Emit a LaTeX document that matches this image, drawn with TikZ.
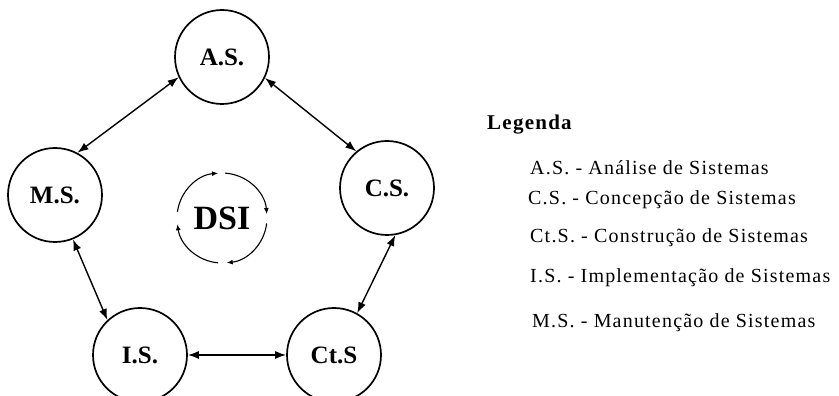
\documentclass[tikz,border=0pt]{standalone}
\usepackage{fontspec}
\setmainfont{Liberation Serif}
\newfontfamily\legfont[LetterSpace=6]{Liberation Serif}
\usetikzlibrary{arrows.meta}
\begin{document}
\begin{tikzpicture}[x=1pt,y=1pt,
  stage/.style={circle, draw, line width=1.7pt, minimum size=94pt, inner sep=0pt, font=\fontsize{25}{27}\selectfont\bfseries},
  link/.style={line width=1.4pt, {Latex[length=11pt,width=8pt]}-{Latex[length=11pt,width=8pt]}},
  ring/.style={line width=1.1pt, -{Latex[length=6pt,width=5pt]}},
  legitem/.style={anchor=base west, inner sep=0pt, font=\fontsize{20}{22}\legfont},
  leghead/.style={anchor=base west, inner sep=0pt, font=\fontsize{21}{23}\legfont\bfseries}
]
\useasboundingbox (0,0) rectangle (839,396);
\node[stage] (as) at (222,339) {A.S.};
\node[stage] (cs) at (387,208) {C.S.};
\node[stage] (ms) at (55,201) {M.S.};
\node[stage] (is) at (140,41) {I.S.};
\node[stage] (cts) at (334,41) {Ct.S};

\draw[link] (ms.62) -- (as.205);
\draw[link] (as.334) -- (cs.130);
\draw[link] (cs.-80) -- (cts.61);
\draw[link] (is.east) -- (cts.west);
\draw[link] (ms.-68) -- (is.133);

\node[font=\fontsize{34}{36}\selectfont\bfseries, inner sep=0pt] (dsi) at (222,178) {DSI};
\draw[ring] ([shift={(172:45)}]dsi.center) arc[start angle=172, end angle=95, radius=45];
\draw[ring] ([shift={(86:45)}]dsi.center) arc[start angle=86, end angle=5, radius=45];
\draw[ring] ([shift={(-7:45)}]dsi.center) arc[start angle=-7, end angle=-84, radius=45];
\draw[ring] ([shift={(-95:45)}]dsi.center) arc[start angle=-95, end angle=-172, radius=45];

\node[leghead] (lh) at (487,266) {Legenda};
\node[legitem] (l1) at (530,221) {A.S. - Análise de Sistemas};
\node[legitem] (l2) at (528,191) {C.S. - Concepção de Sistemas};
\node[legitem] (l3) at (530,153) {Ct.S. - Construção de Sistemas};
\node[legitem] (l4) at (530,113) {I.S. - Implementação de Sistemas};
\node[legitem] (l5) at (532,68) {M.S. - Manutenção de Sistemas};
\end{tikzpicture}
\end{document}
